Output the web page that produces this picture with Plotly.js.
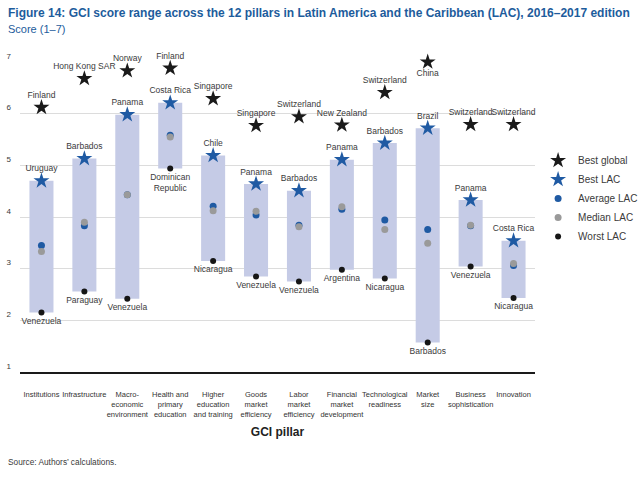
<!DOCTYPE html>
<html>
<head>
<meta charset="utf-8">
<script src="https://cdn.plot.ly/plotly-3.0.1.min.js"></script>
<style>
  html, body { margin: 0; padding: 0; background: #fff; }
  #chart { width: 640px; height: 482px; }
</style>
</head>
<body>
<div id="chart"></div>
<script>
const pillars = ["Institutions", "Infrastructure", "Macro-<br>economic<br>environment", "Health and<br>primary<br>education",
  "Higher<br>education<br>and training", "Goods<br>market<br>efficiency", "Labor<br>market<br>efficiency",
  "Financial<br>market<br>development", "Technological<br>readiness", "Market<br>size", "Business<br>sophistication", "Innovation"];
const bestGlobal = [6.12, 6.68, 6.83, 6.88, 6.29, 5.77, 5.94, 5.78, 6.41, 7.00, 5.79, 5.79];
const bestGlobalCountry = ["Finland", "Hong Kong SAR", "Norway", "Finland", "Singapore", "Singapore", "Switzerland",
  "New Zealand", "Switzerland", "China", "Switzerland", "Switzerland"];
const bestLAC = [4.70, 5.13, 5.98, 6.21, 5.19, 4.64, 4.51, 5.11, 5.43, 5.72, 4.33, 3.54];
const bestLACCountry = ["Uruguay", "Barbados", "Panama", "Costa Rica", "Chile", "Panama", "Barbados", "Panama",
  "Barbados", "Brazil", "Panama", "Costa Rica"];
const avgLAC = [3.45, 3.83, 4.43, 5.58, 4.21, 4.04, 3.84, 4.15, 3.94, 3.76, 3.83, 3.06];
const medianLAC = [3.33, 3.90, 4.43, 5.55, 4.12, 4.11, 3.81, 4.20, 3.76, 3.49, 3.84, 3.10];
const worstLAC = [2.15, 2.56, 2.42, 4.94, 3.15, 2.85, 2.75, 2.98, 2.81, 1.57, 3.04, 2.43];
const worstLACCountry = ["Venezuela", "Paraguay", "Venezuela", "Dominican<br>Republic", "Nicaragua", "Venezuela",
  "Venezuela", "Argentina", "Nicaragua", "Barbados", "Venezuela", "Nicaragua"];
const yTicks = [1, 2, 3, 4, 5, 6, 7];

const NARROW = "'Liberation Sans Narrow', 'Arial Narrow', 'Liberation Sans', Arial, sans-serif";
const SANS = "'Liberation Sans', Arial, sans-serif";
const labelFont = { family: NARROW, size: 8.5, color: "#3a3a3a" };
const BLUE = "#1f5aa3";
const STAR_BLACK = "#1a1a1a";

const idx = pillars.map((_, i) => i);

const traces = [];
traces.push({
  type: "bar", x: idx, base: worstLAC,
  y: bestLAC.map((b, i) => b - worstLAC[i]),
  width: 0.56, marker: { color: "#c5cbe6", line: { width: 0 } },
  showlegend: false, hoverinfo: "skip"
});
traces.push({ type: "scatter", mode: "markers", name: "Best global", x: idx, y: bestGlobal,
  marker: { symbol: "star", size: 12, color: STAR_BLACK }, cliponaxis: false });
traces.push({ type: "scatter", mode: "markers", name: "Best LAC", x: idx, y: bestLAC,
  marker: { symbol: "star", size: 12, color: BLUE }, cliponaxis: false });
traces.push({ type: "scatter", mode: "markers", name: "Average LAC", x: idx, y: avgLAC,
  marker: { symbol: "circle", size: 7, color: BLUE }, cliponaxis: false });
traces.push({ type: "scatter", mode: "markers", name: "Median LAC", x: idx, y: medianLAC,
  marker: { symbol: "circle", size: 7, color: "#9a9a9a" }, cliponaxis: false });
traces.push({ type: "scatter", mode: "markers", name: "Worst LAC", x: idx, y: worstLAC,
  marker: { symbol: "circle", size: 6, color: "#161616" }, cliponaxis: false });

traces.push({ type: "scatter", mode: "markers+text", x: idx, y: bestGlobal, text: bestGlobalCountry,
  textposition: bestGlobalCountry.map(c => c === "China" ? "bottom center" : "top center"),
  textfont: labelFont, marker: { size: 10, opacity: 0 }, showlegend: false, hoverinfo: "skip", cliponaxis: false });
traces.push({ type: "scatter", mode: "markers+text", x: idx, y: bestLAC, text: bestLACCountry,
  textposition: "top center", textfont: labelFont, marker: { size: 10, opacity: 0 },
  showlegend: false, hoverinfo: "skip", cliponaxis: false });
traces.push({ type: "scatter", mode: "markers+text", x: idx, y: worstLAC, text: worstLACCountry,
  textposition: "bottom center", textfont: labelFont, marker: { size: 6, opacity: 0 },
  showlegend: false, hoverinfo: "skip", cliponaxis: false });

const layout = {
  width: 640, height: 482,
  margin: { l: 20, r: 105, t: 62, b: 110, autoexpand: false },
  paper_bgcolor: "#fff", plot_bgcolor: "#fff",
  showlegend: true,
  legend: { x: 1.006, xanchor: "left", y: 0.729, yanchor: "top",
    font: { family: NARROW, size: 10, color: "#3a3a3a" }, tracegroupgap: 0, itemwidth: 30,
    bgcolor: "rgba(0,0,0,0)" },
  xaxis: {
    range: [-0.5, 11.5], tickmode: "array", tickvals: idx, ticktext: pillars, tickangle: 0,
    tickfont: { family: NARROW, size: 7.5, color: "#333333" },
    showgrid: false, zeroline: false, showline: true, linecolor: "#1a1a1a", linewidth: 2,
    ticks: "", ticklabelstandoff: 14, automargin: false,
    title: { text: "<b>GCI pillar</b>", font: { family: NARROW, size: 12, color: "#222" }, standoff: 10 },
    fixedrange: true
  },
  yaxis: {
    range: [1, 7], tickmode: "array", tickvals: yTicks, ticktext: yTicks.map(String),
    tickfont: { family: SANS, size: 8, color: "#3a3a3a" },
    showgrid: true, gridcolor: "#dcdcdc", gridwidth: 1, zeroline: false, showline: false,
    ticks: "", ticklabelstandoff: 8, ticklabelshift: -6, fixedrange: true, automargin: false
  },
  bargap: 0.44
};

function px2paperX(px) { return (px - layout.margin.l) / (640 - layout.margin.l - layout.margin.r); }
function px2paperY(py) { const h = 482 - layout.margin.t - layout.margin.b; return (482 - layout.margin.b - py) / h; }
layout.annotations = [
  { xref: "paper", yref: "paper", x: px2paperX(6), y: px2paperY(4), xanchor: "left", yanchor: "top", showarrow: false,
    text: "<b>Figure 14: GCI score range across the 12 pillars in Latin America and the Caribbean (LAC), 2016–2017 edition</b>",
    font: { family: SANS, size: 12, color: "#1d5c9c" } },
  { xref: "paper", yref: "paper", x: px2paperX(6), y: px2paperY(21), xanchor: "left", yanchor: "top", showarrow: false,
    text: "Score (1–7)", font: { family: SANS, size: 11, color: "#1d5c9c" } },
  { xref: "paper", yref: "paper", x: px2paperX(6), y: px2paperY(455), xanchor: "left", yanchor: "top", showarrow: false,
    text: "Source: Authors’ calculations.", font: { family: NARROW, size: 8.3, color: "#3a3a3a" } }
];

Plotly.newPlot("chart", traces, layout, { displayModeBar: false, staticPlot: true });
</script>
</body>
</html>
